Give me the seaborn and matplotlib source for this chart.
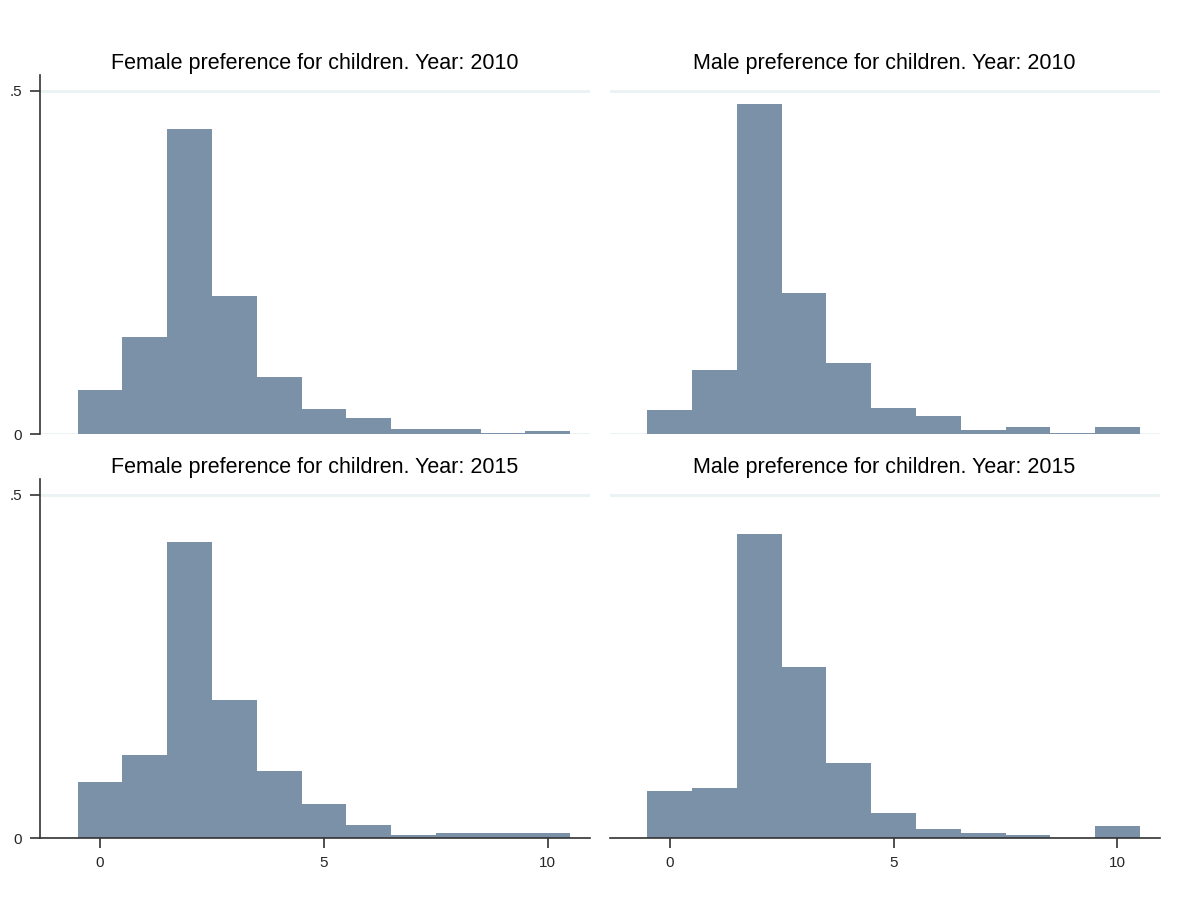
import numpy as np
import matplotlib
matplotlib.use("Agg")
import matplotlib.pyplot as plt
import seaborn as sns

sns.set_theme(style="white")
plt.rcParams['font.family'] = ['Liberation Sans', 'DejaVu Sans']

# bin centres (number of children preferred)
children = [0, 1, 2, 3, 4, 5, 6, 7, 8, 9, 10]
bin_edges = [-0.5, 0.5, 1.5, 2.5, 3.5, 4.5, 5.5, 6.5, 7.5, 8.5, 9.5, 10.5]

female_2010 = [0.064, 0.141, 0.445, 0.201, 0.083, 0.036, 0.024, 0.0076, 0.0076, 0.002, 0.004]
male_2010   = [0.035, 0.093, 0.480, 0.206, 0.103, 0.038, 0.027, 0.006, 0.011, 0.002, 0.011]
female_2015 = [0.082, 0.121, 0.431, 0.201, 0.098, 0.049, 0.0195, 0.005, 0.007, 0.007, 0.007]
male_2015   = [0.069, 0.073, 0.443, 0.249, 0.109, 0.037, 0.0137, 0.0068, 0.005, 0.0, 0.0175]

titles = ["Female preference for children. Year: 2010",
          "Male preference for children. Year: 2010",
          "Female preference for children. Year: 2015",
          "Male preference for children. Year: 2015"]
series = [female_2010, male_2010, female_2015, male_2015]

xticks = [0, 5, 10]
yticks = [0, 0.5]
ytick_labels = ["0", ".5"]

bar_color = "#7a91a8"
grid_color = "#eaf2f3"

fig = plt.figure(figsize=(11.93, 9.14), dpi=100)
left_x = [0.0335, 0.511]
widths = [0.461, 0.461]
bottoms = [0.525, 0.083]
height = 0.393

for i, (title, vals) in enumerate(zip(titles, series)):
    r, c = divmod(i, 2)
    ax = fig.add_axes([left_x[c], bottoms[r], widths[c], height])
    sns.histplot(x=children, weights=vals, bins=bin_edges, stat="count",
                 color=bar_color, alpha=1, edgecolor=bar_color, linewidth=0, ax=ax)
    ax.set_xlim(-1.34, 10.94)
    ax.set_ylim(0, 0.523)
    for yv in yticks:
        ax.axhline(yv, color=grid_color, lw=2, zorder=0)
    for s in ["top", "right"]:
        ax.spines[s].set_visible(False)
    ax.set_xlabel("")
    ax.set_ylabel("")
    ax.set_title(title, fontsize=15.5, pad=4, color="black")
    if c == 0:
        ax.spines["left"].set_visible(True)
        ax.spines["left"].set_color("#333333")
        ax.spines["left"].set_linewidth(1.2)
        ax.set_yticks(yticks)
        ax.set_yticklabels(ytick_labels)
        ax.tick_params(axis="y", left=True, length=7, width=1.2, color="#333333",
                       labelsize=11, pad=6)
    else:
        ax.spines["left"].set_visible(False)
        ax.set_yticks([])
    if r == 1:
        ax.spines["bottom"].set_visible(True)
        ax.spines["bottom"].set_color("#333333")
        ax.spines["bottom"].set_linewidth(1.2)
        ax.set_xticks(xticks)
        ax.set_xticklabels([str(t) for t in xticks])
        ax.tick_params(axis="x", bottom=True, length=7, width=1.2, color="#333333",
                       labelsize=11, pad=6)
    else:
        ax.spines["bottom"].set_visible(False)
        ax.set_xticks([])

fig.savefig("out.png", dpi=100, facecolor="white")
